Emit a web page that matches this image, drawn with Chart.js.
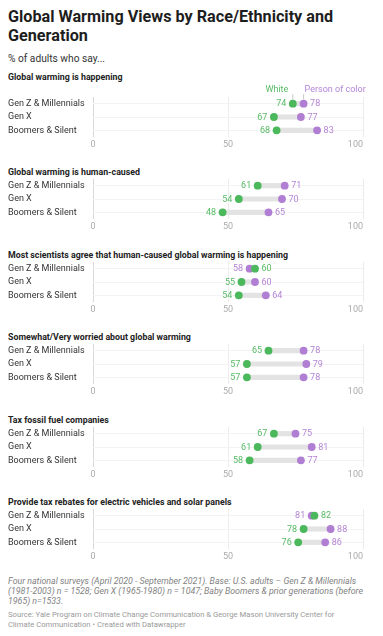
<!DOCTYPE html>
<html><head><meta charset="utf-8">
<script src="https://cdn.jsdelivr.net/npm/chart.js@4"></script>
<style>
body{margin:0;background:#fff;width:383px;height:636px;overflow:hidden;font-family:Roboto,sans-serif;position:relative}
.t{position:absolute;left:8px;white-space:nowrap}
#title{font-weight:700;font-size:16.2px;line-height:19px;color:#1e1e1e;top:6.6px}
#sub{font-size:10.2px;line-height:normal;color:#333;top:52.5px}
.pt{font-weight:700;font-size:8.8px;line-height:normal;color:#222}
#notes{font-style:italic;font-size:8.8px;line-height:10.3px;color:#828282;top:575.5px}
#src{font-size:7.7px;line-height:9.8px;color:#9a9a9a;top:610.2px}
canvas{position:absolute;left:0}
</style></head><body>
<div class="t" id="title">Global Warming Views by Race/Ethnicity and<br>Generation</div>
<div class="t" id="sub">% of adults who say...</div>
<div class="t" id="notes">Four national surveys (April 2020 - September 2021). Base: U.S. adults – Gen Z &amp; Millennials<br>(1981-2003) n = 1528; Gen X (1965-1980) n = 1047; Baby Boomers &amp; prior generations (before<br>1965) n=1533.</div>
<div class="t" id="src">Source: Yale Program on Climate Change Communication &amp; George Mason University Center for<br>Climate Communication • Created with Datawrapper</div>
<script>
const generations = ["Gen Z & Millennials", "Gen X", "Boomers & Silent"];
const panelTitles = [
  "Global warming is happening",
  "Global warming is human-caused",
  "Most scientists agree that human-caused global warming is happening",
  "Somewhat/Very worried about global warming",
  "Tax fossil fuel companies",
  "Provide tax rebates for electric vehicles and solar panels"
];
const whiteValues = [[74,67,68],[61,54,48],[60,55,54],[65,57,57],[67,61,58],[82,78,76]];
const colorValues = [[78,77,83],[71,70,65],[58,60,64],[78,79,78],[75,81,77],[81,88,86]];
const xTicks = [0, 50, 100];
const seriesNames = ["White", "Person of color"];

// layout (not data)
const rowTop = [104, 186, 268.4, 350.8, 433.2, 515.6];
const GREEN = '#4cb85c', PURPLE = '#b07ed3', GREEN_T = '#57bb65', PURPLE_T = '#b484d6';
const PAD_TOP = 22, PAD_BOT = 16, BAND = 40;

const annot = {
  id: 'annot',
  afterDatasetsDraw(chart, args, opts) {
    const p = opts.panel;
    const {ctx, scales: {x, y}, chartArea} = chart;
    ctx.save();
    ctx.font = '9px Roboto';
    ctx.textBaseline = 'middle';
    generations.forEach((g, i) => {
      const yy = y.getPixelForValue(i);
      const items = [{v: whiteValues[p][i], c: GREEN_T}, {v: colorValues[p][i], c: PURPLE_T}].sort((a, b) => a.v - b.v);
      ctx.fillStyle = items[0].c; ctx.textAlign = 'right';
      ctx.fillText(String(items[0].v), x.getPixelForValue(items[0].v) - 6.5, yy + 0.5);
      ctx.fillStyle = items[1].c; ctx.textAlign = 'left';
      ctx.fillText(String(items[1].v), x.getPixelForValue(items[1].v) + 6.5, yy + 0.5);
    });
    ctx.fillStyle = '#ababab';
    xTicks.forEach((t, k) => {
      ctx.textAlign = k === xTicks.length - 1 ? 'right' : 'center';
      ctx.fillText(String(t), x.getPixelForValue(t), chartArea.bottom + 8);
    });
    if (p === 0) {
      const y0 = y.getPixelForValue(0);
      const wx = x.getPixelForValue(whiteValues[0][0]);
      const cx = x.getPixelForValue(colorValues[0][0]);
      ctx.strokeStyle = '#c8c8c8'; ctx.lineWidth = 1;
      ctx.beginPath();
      ctx.moveTo(wx, y0 - 9.5); ctx.lineTo(wx, y0 - 4);
      ctx.moveTo(cx, y0 - 9.5); ctx.lineTo(cx, y0 - 4);
      ctx.stroke();
      ctx.fillStyle = GREEN_T; ctx.textAlign = 'right';
      ctx.fillText(seriesNames[0], wx - 4.5, y0 - 14);
      ctx.fillStyle = PURPLE_T; ctx.textAlign = 'left';
      ctx.fillText(seriesNames[1], cx + 1, y0 - 14);
    }
    ctx.restore();
  }
};

panelTitles.forEach((title, p) => {
  const d = document.createElement('div');
  d.className = 't pt';
  d.textContent = title;
  const base = p === 0 ? rowTop[0] - 24.3 : rowTop[p] - 10.5;
  d.style.top = (base - 0.927 * 8.8) + 'px';
  document.body.appendChild(d);

  const cv = document.createElement('canvas');
  cv.width = 383; cv.height = PAD_TOP + BAND + PAD_BOT;
  cv.style.top = (rowTop[p] - BAND / 6 - PAD_TOP) + 'px';
  document.body.appendChild(cv);

  new Chart(cv, {
    type: 'bar',
    data: {
      labels: generations,
      datasets: [
        {type: 'bar', data: generations.map((g, i) => [whiteValues[p][i], colorValues[p][i]]),
          backgroundColor: '#e3e3e3', barThickness: 4.5, borderWidth: 0, borderSkipped: false, order: 3},
        {type: 'line', label: seriesNames[1], data: generations.map((g, i) => ({x: colorValues[p][i], y: g})),
          showLine: false, pointRadius: 3.9, pointBackgroundColor: PURPLE, pointBorderWidth: 0, order: 2},
        {type: 'line', label: seriesNames[0], data: generations.map((g, i) => ({x: whiteValues[p][i], y: g})),
          showLine: false, pointRadius: 3.9, pointBackgroundColor: GREEN, pointBorderWidth: 0, order: 1}
      ]
    },
    options: {
      indexAxis: 'y', responsive: false, animation: false, events: [],
      layout: {padding: {left: 8, right: 20, top: PAD_TOP, bottom: PAD_BOT}},
      plugins: {legend: {display: false}, tooltip: {enabled: false}, annot: {panel: p}},
      scales: {
        x: {min: 0, max: 100, ticks: {display: false, stepSize: 50},
          grid: {color: c => (c.tick && c.tick.value === 0) ? '#d9d9d9' : '#ececec', drawTicks: false},
          border: {display: false}},
        y: {ticks: {crossAlign: 'far', autoSkip: false, color: '#333', font: {family: 'Roboto', size: 9}, padding: 0},
          grid: {offset: false, color: '#f3f3f3', drawTicks: false}, border: {display: false},
          afterFit(s) { s.width = 85; }}
      }
    },
    plugins: [annot]
  });
});
</script>
</body></html>
